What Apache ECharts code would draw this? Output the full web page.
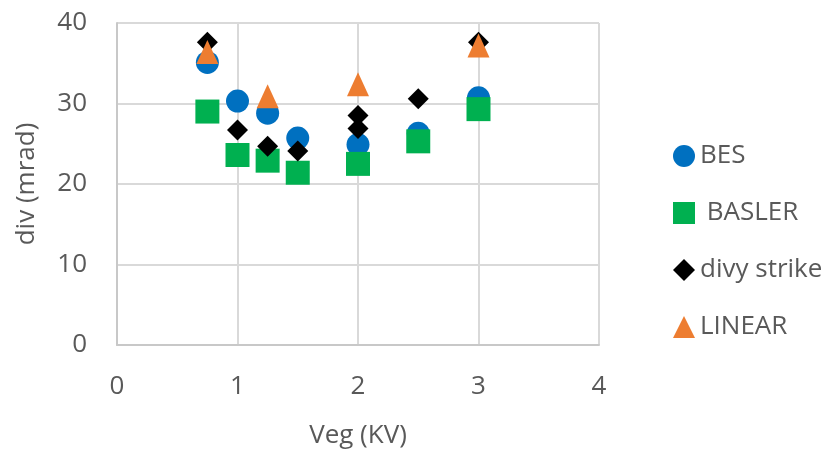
<!DOCTYPE html>
<html>
<head>
<meta charset="utf-8">
<script src="https://cdn.jsdelivr.net/npm/echarts@6/dist/echarts.min.js"></script>
<style>html,body{margin:0;padding:0;background:#fff;}#c{width:829px;height:454px;}</style>
</head>
<body>
<div id="c"></div>
<script>
const seriesNames = ['BES', ' BASLER', 'divy strike', 'LINEAR'];
const besData = [[0.75, 35.1], [1, 30.3], [1.25, 28.8], [1.5, 25.7], [2, 24.9], [2.5, 26.3], [3, 30.7]];
const baslerData = [[0.75, 29.0], [1, 23.6], [1.25, 22.9], [1.5, 21.4], [2, 22.5], [2.5, 25.3], [3, 29.3]];
const divyData = [[0.75, 37.6], [1, 26.7], [1.25, 24.7], [1.5, 24.1], [2, 28.5], [2, 26.9], [2.5, 30.6], [3, 37.6]];
const linearData = [[0.75, 36.4], [1.25, 30.9], [2, 32.4], [3, 37.2]];
const xTicks = [0, 1, 2, 3, 4];
const yTicks = [0, 10, 20, 30, 40];

const FONT = 'Open Sans';
const chart = echarts.init(document.getElementById('c'), null, {renderer: 'canvas'});
chart.setOption({
  animation: false,
  backgroundColor: '#ffffff',
  textStyle: {fontFamily: FONT},
  grid: {left: 117, right: 230, top: 23, bottom: 108, containLabel: false},
  legend: {
    orient: 'vertical',
    left: 668,
    top: 138,
    itemWidth: 22,
    itemHeight: 22,
    itemGap: 31,
    textStyle: {fontFamily: FONT, fontSize: 26, color: '#595959', lineHeight: 26},
    data: seriesNames
  },
  xAxis: {
    type: 'value',
    min: xTicks[0], max: xTicks[xTicks.length - 1], interval: 1,
    name: 'Veg (KV)', nameLocation: 'middle', nameGap: 78,
    nameTextStyle: {fontFamily: FONT, fontSize: 26, color: '#595959'},
    axisLine: {show: true, lineStyle: {color: '#c8c8c8', width: 2}},
    axisTick: {show: false},
    axisLabel: {fontFamily: FONT, fontSize: 26, color: '#595959', margin: 29},
    splitLine: {show: true, lineStyle: {color: '#d9d9d9', width: 2}}
  },
  yAxis: {
    type: 'value',
    min: yTicks[0], max: yTicks[yTicks.length - 1], interval: 10,
    name: 'div (mrad)', nameLocation: 'middle', nameGap: 77,
    nameTextStyle: {fontFamily: FONT, fontSize: 26, color: '#595959'},
    axisLine: {show: true, lineStyle: {color: '#c8c8c8', width: 2}},
    axisTick: {show: false},
    axisLabel: {fontFamily: FONT, fontSize: 26, color: '#595959', margin: 30},
    splitLine: {show: true, lineStyle: {color: '#d9d9d9', width: 2}}
  },
  series: [
    {name: seriesNames[0], type: 'scatter', symbol: 'circle', symbolSize: 23, itemStyle: {color: '#0070C0', opacity: 1}, data: besData, z: 2},
    {name: seriesNames[1], type: 'scatter', symbol: 'rect', symbolSize: 24, itemStyle: {color: '#00B050', opacity: 1}, data: baslerData, z: 3},
    {name: seriesNames[2], type: 'scatter', symbol: 'diamond', symbolSize: [21, 21], itemStyle: {color: '#000000', opacity: 1}, data: divyData, z: 4},
    {name: seriesNames[3], type: 'scatter', symbol: 'triangle', symbolSize: [22, 24], itemStyle: {color: '#ED7D31', opacity: 1}, data: linearData, z: 5}
  ]
});
</script>
</body>
</html>
